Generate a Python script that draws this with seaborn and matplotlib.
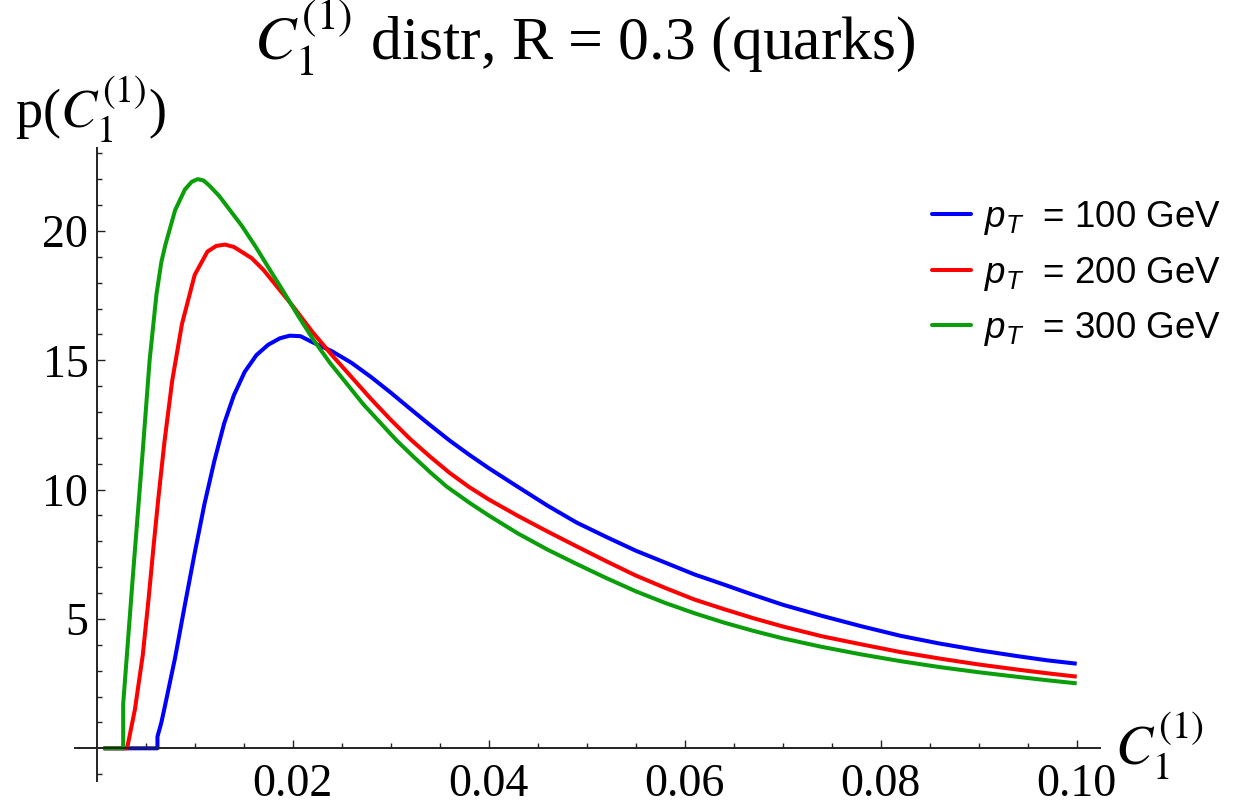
import matplotlib
matplotlib.use("Agg")
import matplotlib.pyplot as plt
import numpy as np
import pandas as pd
import seaborn as sns
from matplotlib.lines import Line2D

# Distribution of C1^(1) for quark jets, R = 0.3, at three jet pT values
pt_values = ["100", "200", "300"]

c_100 = [0.0007, 0.0062, 0.0062, 0.0066, 0.0070, 0.0080, 0.0090, 0.0100, 0.0110,
         0.0120, 0.0130, 0.0140, 0.0151, 0.0163, 0.0175, 0.0187, 0.0197, 0.0208,
         0.0220, 0.0240, 0.0260, 0.0280, 0.0300, 0.0320, 0.0340, 0.0360, 0.0380,
         0.0400, 0.0430, 0.0460, 0.0490, 0.0520, 0.0550, 0.0580, 0.0610, 0.0640,
         0.0670, 0.0700, 0.0740, 0.0780, 0.0820, 0.0860, 0.0900, 0.0940, 0.0970,
         0.1000]
p_100 = [0.0, 0.0, 0.45, 1.0, 1.7, 3.5, 5.55, 7.55, 9.45,
         11.1, 12.55, 13.65, 14.55, 15.2, 15.6, 15.85, 15.95, 15.93,
         15.7, 15.35, 14.9, 14.35, 13.75, 13.12, 12.5, 11.9, 11.35,
         10.83, 10.1, 9.38, 8.72, 8.17, 7.64, 7.18, 6.72, 6.33,
         5.93, 5.55, 5.12, 4.72, 4.35, 4.05, 3.79, 3.56, 3.40,
         3.27]

c_200 = [0.0007, 0.0031, 0.0039, 0.0047, 0.0053, 0.0058, 0.0063, 0.0069, 0.0077,
         0.0087, 0.0100, 0.0113, 0.0122, 0.0131, 0.0140, 0.0158, 0.0170, 0.0185,
         0.0200, 0.0220, 0.0240, 0.0260, 0.0280, 0.0300, 0.0320, 0.0340, 0.0360,
         0.0380, 0.0400, 0.0430, 0.0460, 0.0490, 0.0520, 0.0550, 0.0580, 0.0610,
         0.0640, 0.0670, 0.0700, 0.0740, 0.0780, 0.0820, 0.0860, 0.0900, 0.0940,
         0.0970, 0.1000]
p_200 = [0.0, 0.0, 1.5, 3.6, 5.8, 7.8, 9.7, 11.8, 14.2,
         16.4, 18.3, 19.2, 19.42, 19.47, 19.38, 18.95, 18.5, 17.8,
         17.1, 16.1, 15.2, 14.35, 13.5, 12.7, 11.95, 11.28, 10.65,
         10.1, 9.62, 8.98, 8.38, 7.8, 7.23, 6.68, 6.2, 5.75,
         5.38, 5.03, 4.71, 4.33, 4.02, 3.72, 3.47, 3.24, 3.04,
         2.9, 2.77]

c_300 = [0.0007, 0.0027, 0.0027, 0.0032, 0.0037, 0.0042, 0.0047, 0.0054, 0.0061,
         0.0066, 0.0070, 0.0080, 0.0090, 0.0097, 0.0103, 0.0109, 0.0115, 0.0125,
         0.0134, 0.0148, 0.0162, 0.0175, 0.0189, 0.0205, 0.0221, 0.0238, 0.0255,
         0.0272, 0.0289, 0.0306, 0.0323, 0.0340, 0.0357, 0.0380, 0.0400, 0.0430,
         0.0460, 0.0490, 0.0520, 0.0550, 0.0580, 0.0610, 0.0640, 0.0670, 0.0700,
         0.0740, 0.0780, 0.0820, 0.0860, 0.0900, 0.0940, 0.0970, 0.1000]
p_300 = [0.0, 0.0, 1.7, 4.2, 6.7, 9.1, 11.5, 15.0, 17.55,
         18.8, 19.45, 20.8, 21.6, 21.9, 22.0, 21.95, 21.75, 21.35,
         20.9, 20.2, 19.4, 18.6, 17.75, 16.75, 15.8, 14.9, 14.1,
         13.3, 12.6, 11.9, 11.28, 10.68, 10.12, 9.5, 9.0, 8.3,
         7.68, 7.12, 6.58, 6.07, 5.62, 5.22, 4.86, 4.54, 4.25,
         3.92, 3.63, 3.37, 3.14, 2.94, 2.76, 2.63, 2.51]

x_major = [0.02, 0.04, 0.06, 0.08, 0.10]
x_major_labels = ["0.02", "0.04", "0.06", "0.08", "0.10"]
y_major = [5, 10, 15, 20]
y_major_labels = ["5", "10", "15", "20"]

colors = ["#0000ff", "#ff0000", "#0a9f0a"]

frames = []
for pt, c, p in zip(pt_values, [c_100, c_200, c_300], [p_100, p_200, p_300]):
    frames.append(pd.DataFrame({"C": c, "p": p, "pT": pt}))
df = pd.concat(frames, ignore_index=True)

sns.set_theme(style="white")
plt.rcParams["font.family"] = ["Liberation Serif", "DejaVu Serif"]
plt.rcParams["text.color"] = "black"
plt.rcParams["mathtext.fontset"] = "custom"
plt.rcParams["mathtext.rm"] = "Liberation Sans"
plt.rcParams["mathtext.it"] = "Liberation Sans:italic"
plt.rcParams["mathtext.bf"] = "Liberation Sans:bold"

W, H = 1244, 805
fig = plt.figure(figsize=(W / 100, H / 100), dpi=100)

xlim = (-0.0022, 0.1024)
ylim = (-1.25, 23.2)
x0_px, x_scale = 96.7, 9800.0
y0_px, y_scale = 748.3, 25.87
left_px = x0_px + xlim[0] * x_scale
right_px = x0_px + xlim[1] * x_scale
bottom_px = y0_px - ylim[0] * y_scale
top_px = y0_px - ylim[1] * y_scale
ax = fig.add_axes([left_px / W, (H - bottom_px) / H,
                   (right_px - left_px) / W, (bottom_px - top_px) / H])

sns.lineplot(data=df, x="C", y="p", hue="pT", hue_order=pt_values,
             palette=colors, estimator=None, sort=False, linewidth=2.9,
             legend=False, ax=ax)
for line in ax.get_lines():
    line.set_solid_capstyle("butt")
    line.set_solid_joinstyle("round")

ax.set_xlim(*xlim)
ax.set_ylim(*ylim)
ax.set_xlabel("")
ax.set_ylabel("")

# axes crossing at the origin
for side in ("top", "right"):
    ax.spines[side].set_visible(False)
for side in ("left", "bottom"):
    ax.spines[side].set_position(("data", 0))
    ax.spines[side].set_color("#222222")
    ax.spines[side].set_linewidth(1.4)

ax.set_xticks(x_major, x_major_labels)
ax.set_xticks([0.005 * k for k in range(1, 21) if k % 4 != 0], minor=True)
ax.set_yticks(y_major, y_major_labels)
ax.set_yticks([k for k in range(-1, 24) if k % 5 != 0], minor=True)
ax.tick_params(which="both", direction="in", color="#222222", width=1.0,
               bottom=True, left=True, top=False, right=False,
               labelcolor="black")
ax.tick_params(which="major", length=5.8, labelsize=33)
ax.tick_params(which="minor", length=3.3)
ax.tick_params(axis="x", which="major", pad=11)
ax.tick_params(axis="y", which="major", pad=6)

# title and axis labels
fig.text(585 / W, (H - 60) / H, r"$C_1^{(1)}$ distr, R = 0.3 (quarks)",
         ha="center", va="baseline", fontsize=44.5, math_fontfamily="stix")
fig.text(15 / W, (H - 128) / H, r"p($C_1^{(1)}$)", ha="left", va="baseline",
         fontsize=39, math_fontfamily="stix")
fig.text(1115 / W, (H - 765) / H, r"$C_1^{(1)}$", ha="left", va="baseline",
         fontsize=40, math_fontfamily="stix")

handles = [Line2D([], [], color=c, lw=2.9) for c in colors]
labels = [rf"$p_T$  = {v} GeV" for v in pt_values]
leg = fig.legend(handles, labels, loc="upper left",
                 bbox_to_anchor=(932 / W, (H - 199) / H),
                 frameon=False, prop={"family": "Liberation Sans", "size": 26.5},
                 handlelength=1.06, handletextpad=0.35, labelspacing=0.48,
                 borderpad=0, borderaxespad=0)

fig.savefig("out.png", dpi=100)
